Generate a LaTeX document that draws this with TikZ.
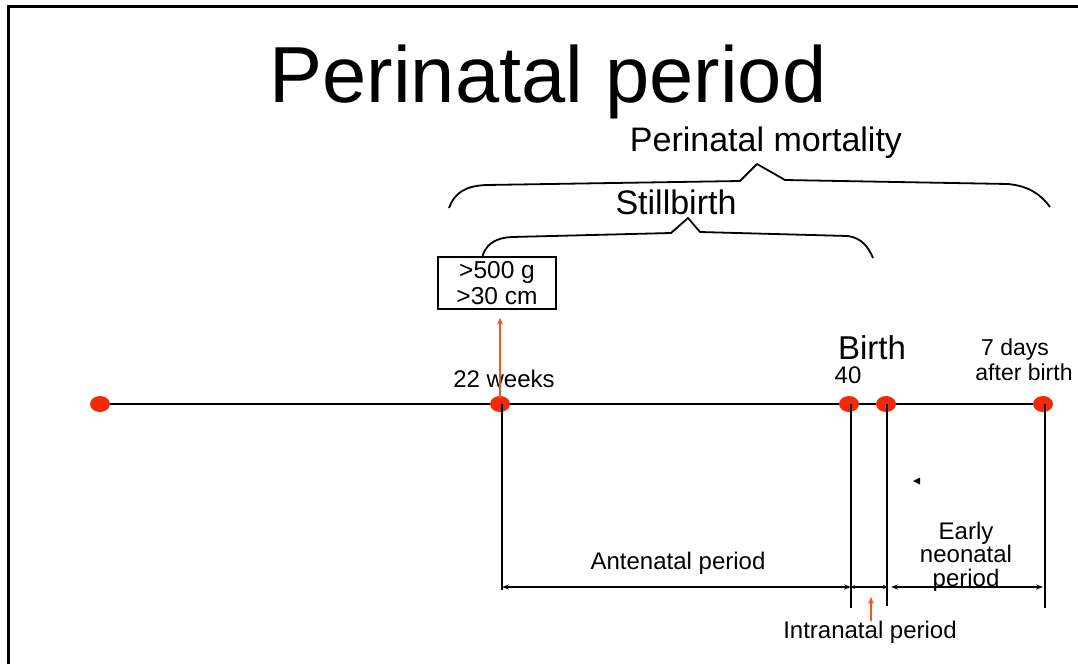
\documentclass[tikz,border=0pt]{standalone}
\usepackage{fontspec}
\setmainfont{Liberation Sans}
\usetikzlibrary{arrows.meta}
\definecolor{dotred}{HTML}{F22A0C}
\definecolor{arrorange}{HTML}{EE5A24}
\begin{document}
\begin{tikzpicture}[x=1pt,y=-1pt,
  txt/.style={inner sep=0pt, anchor=base, align=center},
  fs/.style={font=\fontsize{#1}{#1}\selectfont},
  brace/.style={line width=1.8pt, black, line join=round},
  tline/.style={line width=2pt, black},
  vline/.style={line width=2.4pt, black},
  dbl/.style={line width=1.5pt, {Stealth[length=7pt,width=5pt]}-{Stealth[length=7pt,width=5pt]}},
  oarrow/.style={line width=2.3pt, arrorange, -{Stealth[length=7pt,width=6pt]}},
  boxst/.style={draw, line width=1.6pt, inner sep=0pt, minimum width=118pt, minimum height=52pt, align=center}
]
\useasboundingbox (0,0) rectangle (1078,664);
% frame
\draw[line width=3pt] (8,664) -- (8,6) -- (1078,6);

% titles
\node[txt, fs=79.5] (title) at (548,102) {Perinatal period};
\node[txt, fs=34] (mort) at (766,151) {Perinatal mortality};
\node[txt, fs=34] (still) at (676,214) {Stillbirth};

% braces
\coordinate (ob1) at (449,208);
\coordinate (ob2) at (1050,207);
\draw[brace] (ob1) .. controls (455,192) and (466,186) .. (486,185) -- (740,181) -- (757,164) -- (785,180) -- (1008,184) .. controls (1030,186) and (1042,196) .. (ob2);
\coordinate (ib1) at (482,258);
\coordinate (ib2) at (873,258);
\draw[brace] (ib1) .. controls (485,246) and (493,238) .. (512,237) -- (671,233) -- (688,218) -- (700,232) -- (848,236) .. controls (861,238) and (868,246) .. (ib2);

% box
\node[boxst, fs=24.5] (box) at (497,283) {>500 g\\[1pt]>30 cm};

% timeline
\coordinate (t0) at (100,404);
\coordinate (t1) at (500,404);
\coordinate (t2) at (849,404);
\coordinate (t3) at (886,404);
\coordinate (t4) at (1043,404);
\draw[tline] (t0) -- (t4);
\foreach \p in {t0,t1,t2,t3,t4} \fill[dotred] (\p) ellipse [x radius=10pt, y radius=8pt];

% labels on timeline
\node[txt, fs=24] (w22) at (504,387) {22 weeks};
\node[txt, fs=24] (forty) at (848,383) {40};
\node[txt, fs=33] (birth) at (872,359) {Birth};
\node[txt, fs=23] (days) at (1015,355) {7 days};
\node[txt, fs=23] (after) at (1024,380) {after birth};

% orange arrow to box
\coordinate (oa1) at (500,398);
\path (oa1 |- box.south) coordinate (oa0);
\coordinate (oa2) at ([yshift=-8pt]oa0);
\draw[oarrow] (oa1) -- (oa2);

% vertical lines
\coordinate (v1b) at (502,590);
\coordinate (v2b) at (851,608);
\coordinate (v3b) at (887,606);
\coordinate (v4b) at (1045,608);
\draw[vline] (502,404) -- (v1b);
\draw[vline] (851,404) -- (v2b);
\draw[vline] (887,404) -- (v3b);
\draw[vline] (1045,404) -- (v4b);

% double arrows
\coordinate (d1) at (502,587);
\coordinate (d2) at (851,587);
\coordinate (d3) at (887,587);
\coordinate (d4) at (891,587);
\coordinate (d5) at (1043,587);
\draw[dbl] (d1) -- (d2);
\draw[line width=1.5pt, {Stealth[length=4pt,width=4pt]}-{Stealth[length=4pt,width=4pt]}] (d2) -- (d3);
\draw[dbl] (d4) -- (d5);

% period labels
\node[txt, fs=24] (ante) at (678,569) {Antenatal period};
\node[txt, fs=24, align=center] (early) at (966,586) {Early\\[-0.5pt]neonatal\\[-0.5pt]period};
\node[txt, fs=24] (intra) at (870,638) {Intranatal period};
\coordinate (ia1) at (871,621);
\coordinate (ia2) at (871,597);
\draw[oarrow] (ia1) -- (ia2);

% stray mark
\fill (913,481) -- (920,477.5) -- (920,484.5) -- cycle;
\end{tikzpicture}
\end{document}
